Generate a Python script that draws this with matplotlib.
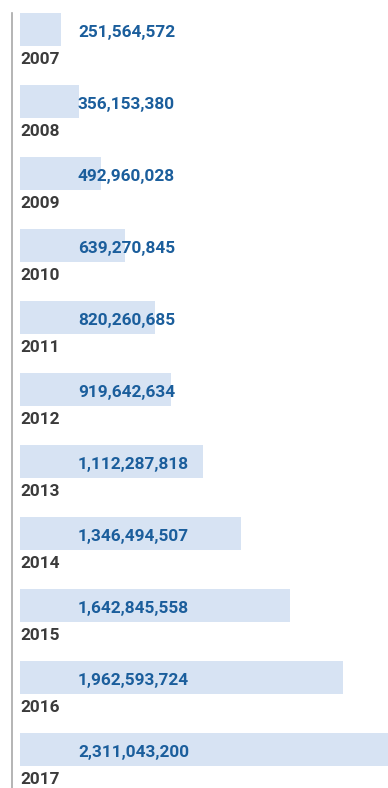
import matplotlib
matplotlib.use("Agg")
import matplotlib.pyplot as plt
from matplotlib.transforms import blended_transform_factory
from matplotlib.lines import Line2D

years = ["2007", "2008", "2009", "2010", "2011", "2012",
         "2013", "2014", "2015", "2016", "2017"]
values = [251564572, 356153380, 492960028, 639270845, 820260685, 919642634,
          1112287818, 1346494507, 1642845558, 1962593724, 2311043200]

W, H = 388, 788
fig = plt.figure(figsize=(W / 100, H / 100), dpi=100)
left_px = 20
ax = fig.add_axes([left_px / W, 0, 1 - left_px / W, 1])

step = 72.0
first_center = 29.5
bar_h = 33 / step

ax.barh(range(len(years)), values, height=bar_h, color="#d7e3f3", align="center")

# pixel scale: full axis width covers slightly less than the largest value
ax.set_xlim(0, max(values) * (W - left_px) / 380)
ax.set_ylim((H - first_center) / step, -first_center / step)
ax.axis("off")

trans = blended_transform_factory(ax.transAxes, ax.transData)
label_x = (78 - left_px) / (W - left_px)
for i, (yr, v) in enumerate(zip(years, values)):
    ax.text(label_x, i + 0.04, f"{v:,}", transform=trans, ha="left", va="center",
            fontsize=12.4, fontweight="bold", family="Roboto", color="#1b5e9c")
    ax.text(0, i + 0.41, yr, transform=trans, ha="left", va="center",
            fontsize=12.4, fontweight="bold", family="Roboto", color="#3b3b3b")

fig.add_artist(Line2D([12.5 / W, 12.5 / W], [0, 1 - 13 / H],
                      transform=fig.transFigure, color="#a8a8a8", linewidth=1.2))

fig.savefig("out.png", dpi=100, facecolor="white")
